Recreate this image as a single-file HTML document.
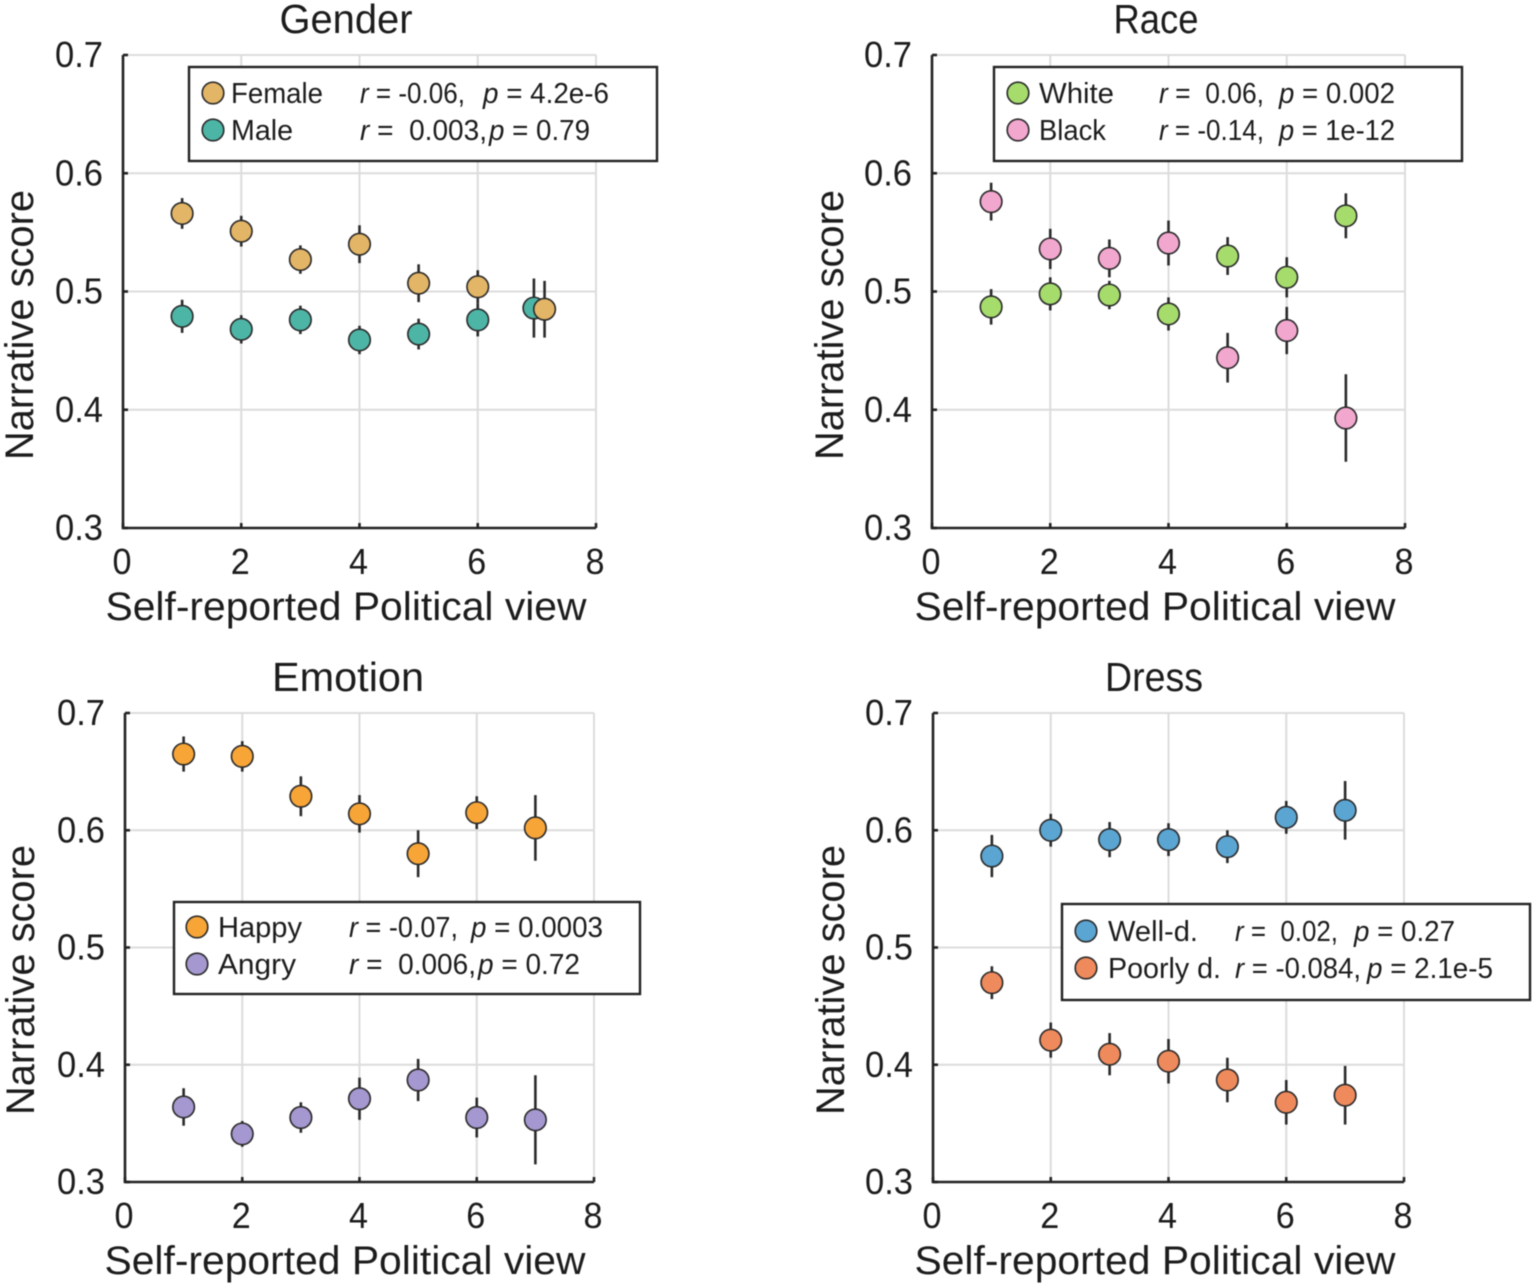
<!DOCTYPE html>
<html>
<head>
<meta charset="utf-8">
<title>Narrative score vs political view</title>
<style>
html,body{margin:0;padding:0;background:#fff;}
svg{display:block;font-family:"Liberation Sans",sans-serif;fill:#1c1c1c;filter:blur(0.5px);}
</style>
</head>
<body>
<svg id="chart" xmlns="http://www.w3.org/2000/svg" width="1535" height="1288" viewBox="0 0 1535 1288"></svg>
<script>
// ---- Data ----
const xTickLabels = [0, 2, 4, 6, 8];
const yTickLabels = [0.3, 0.4, 0.5, 0.6, 0.7];

const viewsFemale = [1, 2, 3, 4, 5, 6, 7.13];
const viewsMale = [1, 2, 3, 4, 5, 6, 6.95];
const viewsAll = [1, 2, 3, 4, 5, 6, 7];

const femaleScores = [0.566, 0.551, 0.527, 0.540, 0.507, 0.504, 0.485];
const femaleErrors = [0.013, 0.013, 0.012, 0.016, 0.016, 0.014, 0.024];
const maleScores = [0.479, 0.468, 0.476, 0.459, 0.464, 0.476, 0.486];
const maleErrors = [0.014, 0.012, 0.012, 0.012, 0.013, 0.014, 0.025];

const whiteScores = [0.487, 0.498, 0.497, 0.481, 0.530, 0.512, 0.564];
const whiteErrors = [0.015, 0.014, 0.012, 0.014, 0.016, 0.017, 0.019];
const blackScores = [0.576, 0.536, 0.528, 0.541, 0.444, 0.467, 0.393];
const blackErrors = [0.016, 0.017, 0.016, 0.019, 0.021, 0.020, 0.037];

const happyScores = [0.665, 0.663, 0.629, 0.614, 0.580, 0.615, 0.602];
const happyErrors = [0.015, 0.013, 0.017, 0.016, 0.020, 0.014, 0.028];
const angryScores = [0.364, 0.341, 0.355, 0.371, 0.387, 0.355, 0.353];
const angryErrors = [0.016, 0.011, 0.013, 0.018, 0.018, 0.017, 0.038];

const wellScores = [0.578, 0.600, 0.592, 0.592, 0.586, 0.611, 0.617];
const wellErrors = [0.018, 0.014, 0.015, 0.014, 0.014, 0.014, 0.025];
const poorScores = [0.470, 0.421, 0.409, 0.403, 0.387, 0.368, 0.374];
const poorErrors = [0.014, 0.015, 0.018, 0.019, 0.019, 0.019, 0.025];

// ---- Drawing helpers ----
const NS = 'http://www.w3.org/2000/svg';
const svg = document.getElementById('chart');

function make(parent, tag, attrs) {
  const el = document.createElementNS(NS, tag);
  for (const k in attrs) el.setAttribute(k, attrs[k]);
  parent.appendChild(el);
  return el;
}

function drawText(parent, name, str, attrs) {
  const el = make(parent, 'text', attrs);
  
  
  el.textContent = str;
  return el;
}

function drawStat(parent, name, letter, rest, x, y, len) {
  const el = make(parent, 'text', {x: x, y: y, 'font-size': 29, textLength: len, lengthAdjust: 'spacingAndGlyphs'});
  
  
  const it = make(el, 'tspan', {'font-style': 'italic'});
  it.textContent = letter;
  const tail = make(el, 'tspan', {});
  tail.textContent = rest;
  return el;
}

function drawPanel(p) {
  const g = make(svg, 'g', {});
  
  

  const sx = v => p.left + (v - 0) / 8 * (p.right - p.left);
  const sy = v => p.bottom - (v - 0.3) / 0.4 * (p.bottom - p.top);

  // Gridlines
  const grid = make(g, 'g', {stroke: '#dcdcdc', 'stroke-width': 2});
  
  
  xTickLabels.forEach(t => {
    if (t > 0) make(grid, 'line', {x1: sx(t), x2: sx(t), y1: p.top, y2: p.bottom});
  });
  yTickLabels.forEach(t => {
    if (t > 0.3) make(grid, 'line', {x1: p.left, x2: p.right, y1: sy(t), y2: sy(t)});
  });

  // Axes
  const axes = make(g, 'g', {stroke: '#222', 'stroke-width': 2.6, fill: 'none'});
  
  
  make(axes, 'path', {d: 'M' + p.left + ' ' + p.top + 'V' + p.bottom + 'H' + p.right});
  xTickLabels.forEach(t => {
    make(axes, 'line', {x1: sx(t), x2: sx(t), y1: p.bottom, y2: p.bottom - 5});
  });
  yTickLabels.forEach(t => {
    make(axes, 'line', {x1: p.left, x2: p.left + 5, y1: sy(t), y2: sy(t)});
  });

  // Tick labels
  xTickLabels.forEach(t => {
    drawText(g, p.id + '-x-tick-' + t, String(t), {x: sx(t) - 1, y: p.bottom + 46, 'font-size': 36, 'text-anchor': 'middle', textLength: 19, lengthAdjust: 'spacingAndGlyphs'});
  });
  yTickLabels.forEach(t => {
    drawText(g, p.id + '-y-tick-' + t, t.toFixed(1), {x: p.left - 20, y: sy(t) + 12, 'font-size': 36, 'text-anchor': 'end', textLength: 48, lengthAdjust: 'spacingAndGlyphs'});
  });

  // Titles
  drawText(g, p.id + '-title', p.title, {x: p.titleX, y: p.top - 22, 'font-size': 41, 'text-anchor': 'middle', textLength: p.titleLen, lengthAdjust: 'spacingAndGlyphs'});
  drawText(g, p.id + '-x-axis-title', 'Self-reported Political view', {x: p.xLabelX, y: p.bottom + 92, 'font-size': 40, 'text-anchor': 'middle', textLength: 481, lengthAdjust: 'spacingAndGlyphs'});
  drawText(g, p.id + '-y-axis-title', 'Narrative score', {
    transform: 'translate(' + p.yLabelX + ',' + p.yLabelY + ') rotate(-90)',
    'font-size': 40, 'text-anchor': 'middle', textLength: 270, lengthAdjust: 'spacingAndGlyphs'
  });

  // Series
  p.series.forEach(s => {
    const sg = make(g, 'g', {});
    
    
    s.scores.forEach((v, i) => {
      const bar = make(sg, 'line', {
        x1: sx(s.views[i]), x2: sx(s.views[i]),
        y1: sy(v - s.errors[i]), y2: sy(v + s.errors[i]),
        stroke: '#2a2a2a', 'stroke-width': 2.6
      });
      
      
      const dot = make(sg, 'circle', {
        cx: sx(s.views[i]), cy: sy(v), r: 10.8,
        fill: s.color, stroke: '#2a2a2a', 'stroke-width': 1.6
      });
      
      
    });
  });

  // Legend
  const L = p.legend;
  const lg = make(g, 'g', {});
  
  
  const box = make(lg, 'rect', {x: L.x, y: L.y, width: L.w, height: L.h, fill: '#fff', stroke: '#222', 'stroke-width': 2.4});
  
  
  L.rows.forEach((r, i) => {
    const cy = L.rowY[i];
    const sw = make(lg, 'circle', {cx: L.swatchX, cy: cy, r: 10.8, fill: r.color, stroke: '#2a2a2a', 'stroke-width': 1.6});
    
    
    drawText(lg, r.label.toLowerCase().replace(/[^a-z]+/g, '-') + '-legend-label', r.label, {x: L.labelX, y: cy + 10, 'font-size': 29, textLength: r.labelLen, lengthAdjust: 'spacingAndGlyphs'});
    drawStat(lg, r.label.toLowerCase().replace(/[^a-z]+/g, '-') + '-r-value', 'r', r.rText, r.rX, cy + 10, r.rLen);
    drawStat(lg, r.label.toLowerCase().replace(/[^a-z]+/g, '-') + '-p-value', 'p', r.pText, r.pX, cy + 10, r.pLen);
  });
}

const colFemale = '#e3b566', colMale = '#4db5a6';
const colWhite = '#a5dc6c', colBlack = '#f2a7cf';
const colHappy = '#f7a537', colAngry = '#a597cf';
const colWell = '#5ba5d2', colPoor = '#ef8a5c';

drawPanel({
  id: 'gender', title: 'Gender', titleX: 346, titleLen: 133, xLabelX: 346, yLabelX: 33, yLabelY: 325,
  left: 123, right: 596, top: 55, bottom: 528,
  series: [
    {name: 'male', views: viewsMale, scores: maleScores, errors: maleErrors, color: colMale},
    {name: 'female', views: viewsFemale, scores: femaleScores, errors: femaleErrors, color: colFemale}
  ],
  legend: {x: 189, y: 67, w: 468, h: 94, swatchX: 213, labelX: 231, rowY: [93, 130], rows: [
    {label: 'Female', labelLen: 92, color: colFemale, rText: ' = -0.06,', rX: 360, rLen: 105, pText: ' = 4.2e-6', pX: 483, pLen: 126},
    {label: 'Male', labelLen: 62, color: colMale, rText: ' = \u00a00.003,', rX: 360, rLen: 127, pText: ' = 0.79', pX: 489, pLen: 101}
  ]}
});

drawPanel({
  id: 'race', title: 'Race', titleX: 1156, titleLen: 85, xLabelX: 1155, yLabelX: 843, yLabelY: 325,
  left: 932, right: 1405, top: 55, bottom: 528,
  series: [
    {name: 'white', views: viewsAll, scores: whiteScores, errors: whiteErrors, color: colWhite},
    {name: 'black', views: viewsAll, scores: blackScores, errors: blackErrors, color: colBlack}
  ],
  legend: {x: 994, y: 67, w: 468, h: 94, swatchX: 1018, labelX: 1039, rowY: [93, 130], rows: [
    {label: 'White', labelLen: 75, color: colWhite, rText: ' = \u00a00.06,', rX: 1159, rLen: 105, pText: ' = 0.002', pX: 1279, pLen: 116},
    {label: 'Black', labelLen: 67, color: colBlack, rText: ' = -0.14,', rX: 1159, rLen: 105, pText: ' = 1e-12', pX: 1279, pLen: 116}
  ]}
});

drawPanel({
  id: 'emotion', title: 'Emotion', titleX: 348, titleLen: 152, xLabelX: 345, yLabelX: 34, yLabelY: 980,
  left: 125, right: 594, top: 713, bottom: 1182,
  series: [
    {name: 'happy', views: viewsAll, scores: happyScores, errors: happyErrors, color: colHappy},
    {name: 'angry', views: viewsAll, scores: angryScores, errors: angryErrors, color: colAngry}
  ],
  legend: {x: 174, y: 902, w: 466, h: 92, swatchX: 197, labelX: 218, rowY: [927, 964], rows: [
    {label: 'Happy', labelLen: 84, color: colHappy, rText: ' = -0.07,', rX: 349, rLen: 109, pText: ' = 0.0003', pX: 471, pLen: 132},
    {label: 'Angry', labelLen: 78, color: colAngry, rText: ' = \u00a00.006,', rX: 349, rLen: 127, pText: ' = 0.72', pX: 478, pLen: 102}
  ]}
});

drawPanel({
  id: 'dress', title: 'Dress', titleX: 1154, titleLen: 98, xLabelX: 1155, yLabelX: 844, yLabelY: 980,
  left: 933, right: 1404, top: 713, bottom: 1182,
  series: [
    {name: 'well-dressed', views: viewsAll, scores: wellScores, errors: wellErrors, color: colWell},
    {name: 'poorly-dressed', views: viewsAll, scores: poorScores, errors: poorErrors, color: colPoor}
  ],
  legend: {x: 1062, y: 904, w: 468, h: 96, swatchX: 1086, labelX: 1108, rowY: [931, 968], rows: [
    {label: 'Well-d.', labelLen: 90, color: colWell, rText: ' = \u00a00.02,', rX: 1235, rLen: 103, pText: ' = 0.27', pX: 1354, pLen: 101},
    {label: 'Poorly d.', labelLen: 113, color: colPoor, rText: ' = -0.084,', rX: 1235, rLen: 126, pText: ' = 2.1e-5', pX: 1367, pLen: 126}
  ]}
});
</script>
</body>
</html>
